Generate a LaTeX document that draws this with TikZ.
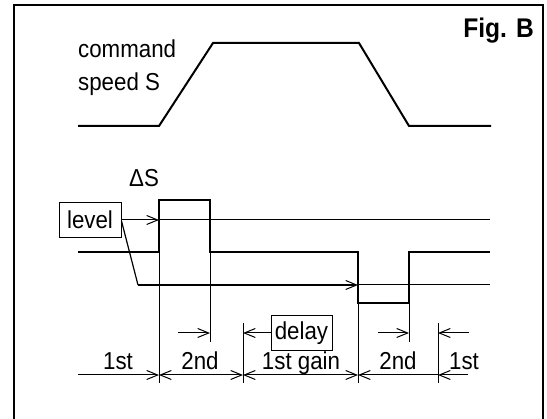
\documentclass[tikz,border=0pt]{standalone}
\usepackage{fontspec}
\setmainfont{Liberation Sans}[FakeStretch=0.91]
\usetikzlibrary{arrows.meta}
\begin{document}
\begin{tikzpicture}[x=1pt,y=-1pt,
  thickline/.style={line width=2pt,line join=miter},
  thinline/.style={line width=1pt},
  tip/.style={-{Straight Barb[length=11pt,width=9pt,line width=1pt]}},
  txt/.style={font=\fontsize{24.5}{28}\selectfont,inner sep=0pt},
  boxed/.style={draw,line width=1pt,font=\fontsize{24.5}{28}\selectfont,inner sep=0pt,minimum width=#1,minimum height=35pt},
]
\useasboundingbox (0,0) rectangle (547,419);
\begin{scope}
\clip (0,0) rectangle (547,419);
\draw[line width=2pt] (14,440) -- (14,5) -- (543,5) -- (543,440);
\end{scope}
% command speed
\draw[thickline] (78,126) -- (159,126) -- (213,43) -- (359,43) -- (409,126) -- (491,126);
\node[txt,anchor=west] (cmd) at (78,49) {command};
\node[txt,anchor=west] (spd) at (78,84) {speed S};
\node[font=\bfseries\fontsize{27}{31}\selectfont,inner sep=0pt,anchor=east] (fig) at (534,31) {Fig. B};
% delta S
\node[txt] (dS) at (144,178) {ΔS};
\node[boxed=62pt] (level) at (90,220) {level};
% signal
\draw[thickline] (78,252) -- (159,252) -- (159,200) -- (210,200) -- (210,252) -- (358,252) -- (358,303) -- (409,303) -- (409,252) -- (490,252);
% level lines
\coordinate (u1) at (159,220);
\coordinate (u2) at (490,220);
\draw[thinline,tip] (level.east |- u1) -- (u1);
\draw[thinline] (u1) -- (u2);
\coordinate (d0) at (138,285);
\coordinate (d1) at (358,285);
\coordinate (d2) at (490,285);
\draw[line width=1.2pt] ([yshift=-1pt]level.east) -- (d0);
\draw[line width=1.5pt,tip] (d0) -- (d1);
\draw[thinline] (d1) -- (d2);
% verticals
\draw[thinline] (159,252) -- (159,383);
\draw[thinline] (210,252) -- (210,342);
\draw[thinline] (243,323) -- (243,383);
\draw[thinline] (358,303) -- (358,383);
\draw[thinline] (409,303) -- (409,342);
\draw[thinline] (438,323) -- (438,383);
% bottom dimension row
\coordinate (b0) at (78,375);
\coordinate (b1) at (159,375);
\coordinate (b2) at (243,375);
\coordinate (b3) at (358,375);
\coordinate (b4) at (438,375);
\coordinate (b5) at (468,375);
\draw[thinline,tip] (b0) -- (b1);
\draw[thinline,{Straight Barb[length=11pt,width=9pt,line width=1pt]}-{Straight Barb[length=11pt,width=9pt,line width=1pt]}] (b1) -- (b2);
\draw[thinline,{Straight Barb[length=11pt,width=9pt,line width=1pt]}-{Straight Barb[length=11pt,width=9pt,line width=1pt]}] (b2) -- (b3);
\draw[thinline,tip] (b4) -- (b3);
\draw[thinline,tip] (b5) -- (b4);
\node[txt,anchor=base] (l1) at (118,370) {1st};
\node[txt,anchor=base] (l2) at (200,370) {2nd};
\node[txt,anchor=base] (l3) at (301,370) {1st gain};
\node[txt,anchor=base] (l4) at (398,370) {2nd};
\node[txt,anchor=base] (l5) at (464,370) {1st};
% delay row
\node[boxed=61pt] (delay) at (301.5,333.5) {delay};
\coordinate (m0) at (178,333);
\coordinate (m1) at (210,333);
\coordinate (m2) at (243,333);
\coordinate (m3) at (378,333);
\coordinate (m4) at (409,333);
\coordinate (m5) at (438,333);
\coordinate (m6) at (469,333);
\draw[thinline,tip] (m0) -- (m1);
\draw[thinline,tip] (delay.west |- m2) -- (m2);
\draw[thinline,tip] (m3) -- (m4);
\draw[thinline,tip] (m6) -- (m5);
\end{tikzpicture}
\end{document}
